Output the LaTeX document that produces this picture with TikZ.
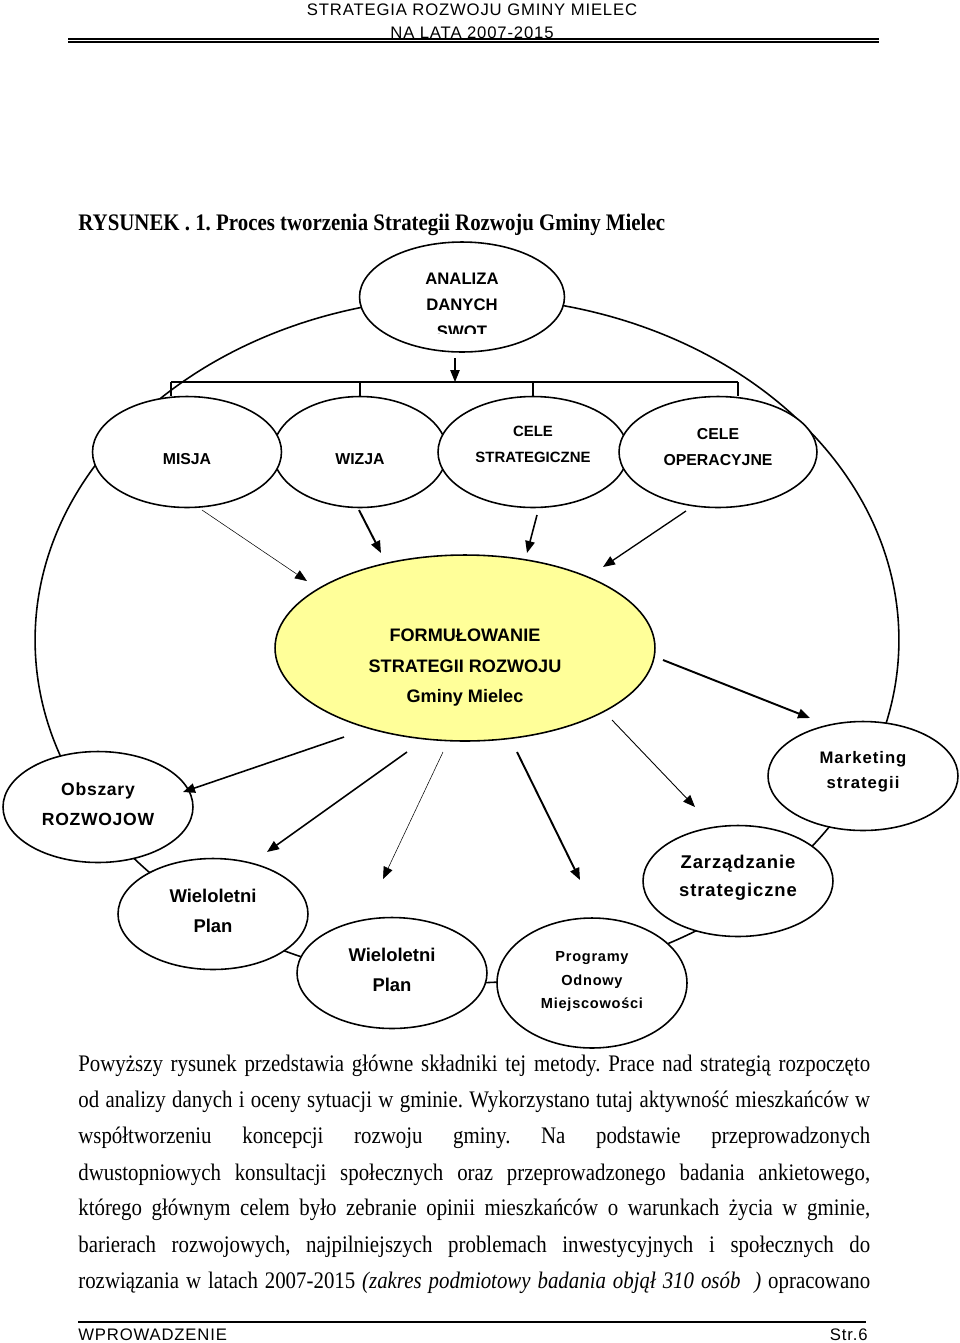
\documentclass[tikz,border=0pt]{standalone}
\usepackage{fontspec}
\setmainfont{Liberation Serif}
\newfontfamily\diagfont{Liberation Sans}
\newfontfamily\headfont[LetterSpace=5]{Liberation Sans}
\newfontfamily\bodyfont[FakeStretch=0.88]{Liberation Serif}
\usetikzlibrary{shapes.geometric,arrows.meta}

\definecolor{formyellow}{HTML}{FFFF99}
\newlength{\unitpx}
\setlength{\unitpx}{0.02cm}
\newcommand{\bfs}[2]{\diagfont\bfseries\fontsize{#1}{#2}\selectfont}
\newcommand{\bubbletext}[2]{\raisebox{\dimexpr-#1\unitpx-0.25em\relax}[0pt][0pt]{\begin{tabular}{@{}c@{}}#2\end{tabular}}}
\newcommand{\justline}[1]{\makebox[15.84cm][s]{#1}}
\frenchspacing

\tikzset{
  bubble/.style={draw, ellipse, fill=white, line width=0.9pt, inner sep=0pt,
    minimum width=3.8cm, minimum height=2.22cm},
  arr/.style={-{Triangle[length=2.4mm,width=1.9mm]}},
  bodyline/.style={anchor=base west, inner sep=0pt, font=\bodyfont\fontsize{13.5}{16}\selectfont},
  header/.style={anchor=base, inner sep=0pt, font=\headfont\fontsize{9.5}{12}\selectfont}
}

\begin{document}
\begin{tikzpicture}[x=0.02cm, y=-0.02cm]
\useasboundingbox (0,0) rectangle (960,1343);

\node[header] (head1) at (472,15) {STRATEGIA ROZWOJU GMINY MIELEC};
\node[header] (head2) at (472,38) {NA LATA 2007-2015};
\draw[line width=0.74pt] (68,39) -- (879,39);
\draw[line width=1.14pt] (68,41.8) -- (879,41.8);
\node[anchor=base west, inner sep=0pt, font=\bodyfont\bfseries\fontsize{13.5}{16}\selectfont] (title) at (78,230) {RYSUNEK . 1. Proces tworzenia Strategii Rozwoju Gminy Mielec};

\draw[line width=0.9pt] (467,640) ellipse [x radius=8.64cm, y radius=6.86cm];

\node[bubble, minimum width=4.1cm, minimum height=2.2cm, font=\bfs{9.5}{15}] (analiza) at (462,297) {\bubbletext{-5}{ANALIZA\\DANYCH}};
\begin{scope}
\clip (380,318) rectangle (545,333);
\node[inner sep=0pt, font=\bfs{9.5}{15}] (swot) at (462,332) {SWOT};
\end{scope}

\node[bubble, minimum width=3.48cm, font=\bfs{9}{15}] (wizja) at (360,452) {\bubbletext{7.5}{WIZJA}};
\node[bubble, minimum width=3.78cm, font=\bfs{9}{15}] (misja) at (187,452) {\bubbletext{7.5}{MISJA}};
\node[bubble, font=\bfs{8.5}{14.5}] (celestrat) at (533,452) {\bubbletext{-8}{CELE\\STRATEGICZNE}};
\node[bubble, minimum width=3.96cm, font=\bfs{9}{14.8}] (celeoper) at (718,452) {\bubbletext{-4.5}{CELE\\OPERACYJNE}};

\coordinate (analizaOut) at (455,358);
\coordinate (barM) at (455,382);
\coordinate (barL) at (171,382);
\coordinate (barR) at (738,382);
\draw[arr, line width=0.6pt] (analizaOut) -- (barM);
\draw[line width=0.9pt] (barL) -- (barR);
\draw[line width=0.9pt] (barL) -- (barL |- misja.north);
\draw[line width=0.9pt] (wizja.north |- barL) -- (wizja.north);
\draw[line width=0.9pt] (celestrat.north |- barL) -- (celestrat.north);
\draw[line width=0.9pt] (barR) -- (barR |- celeoper.north);

\node[bubble, fill=formyellow, minimum width=7.6cm, minimum height=3.72cm, font=\bfs{10.3}{17.2}] (form) at (465,648) {\bubbletext{18}{FORMUŁOWANIE\\STRATEGII ROZWOJU\\Gminy Mielec}};

\node[bubble, font=\bfs{10}{16.8}\addfontfeature{LetterSpace=4}] (obszary) at (98,807) {\bubbletext{-2.5}{Obszary\\ROZWOJOW}};
\node[bubble, font=\bfs{10.5}{17}] (plan1) at (213,914) {\bubbletext{-2.5}{Wieloletni\\Plan}};
\node[bubble, font=\bfs{10.5}{17}] (plan2) at (392,973) {\bubbletext{-2.5}{Wieloletni\\Plan}};
\node[bubble, minimum height=2.6cm, font=\bfs{8.3}{13.4}\addfontfeature{LetterSpace=5}] (programy) at (592,983) {\bubbletext{-2.5}{Programy\\Odnowy\\Miejscowości}};
\node[bubble, font=\bfs{10.5}{15.9}\addfontfeature{LetterSpace=5}] (zarzadzanie) at (738,881) {\bubbletext{-3.5}{Zarządzanie\\strategiczne}};
\node[bubble, minimum height=2.18cm, font=\bfs{9.5}{14.2}\addfontfeature{LetterSpace=6}] (marketing) at (863,776) {\bubbletext{-5.5}{Marketing\\strategii}};

\coordinate (misjaOut) at (202,510);
\coordinate (formInA) at (307,581);
\coordinate (wizjaOut) at (359,510);
\coordinate (formInB) at (381,553);
\coordinate (celestratOut) at (537,515);
\coordinate (formInC) at (527,553);
\coordinate (celeoperOut) at (686,511);
\coordinate (formInD) at (603,567);
\draw[arr, line width=0.3pt] (misjaOut) -- (formInA);
\draw[arr, line width=1.1pt] (wizjaOut) -- (formInB);
\draw[arr, line width=0.9pt] (celestratOut) -- (formInC);
\draw[arr, line width=0.75pt] (celeoperOut) -- (formInD);

\coordinate (formOutA) at (663,660);
\coordinate (marketingIn) at (810,718);
\coordinate (formOutB) at (612,720);
\coordinate (zarzadzanieIn) at (695,807);
\coordinate (formOutC) at (517,752);
\coordinate (programyIn) at (580,880);
\coordinate (formOutD) at (443,752);
\coordinate (plan2In) at (383,879);
\coordinate (formOutE) at (407,752);
\coordinate (plan1In) at (267,852);
\coordinate (formOutF) at (344,737);
\coordinate (obszaryIn) at (183,792);
\draw[arr, line width=1.1pt] (formOutA) -- (marketingIn);
\draw[arr, line width=0.5pt] (formOutB) -- (zarzadzanieIn);
\draw[arr, line width=1.1pt] (formOutC) -- (programyIn);
\draw[arr, line width=0.3pt] (formOutD) -- (plan2In);
\draw[arr, line width=0.9pt] (formOutE) -- (plan1In);
\draw[arr, line width=0.9pt] (formOutF) -- (obszaryIn);

\node[bodyline] (line1) at (78,1071) {\justline{Powyższy rysunek przedstawia główne składniki tej metody. Prace nad strategią rozpoczęto}};
\node[bodyline] (line2) at (78,1107) {\justline{od analizy danych i oceny sytuacji w gminie. Wykorzystano tutaj aktywność mieszkańców w}};
\node[bodyline] (line3) at (78,1143) {\justline{współtworzeniu koncepcji rozwoju gminy. Na podstawie przeprowadzonych}};
\node[bodyline] (line4) at (78,1180) {\justline{dwustopniowych konsultacji społecznych oraz przeprowadzonego badania ankietowego,}};
\node[bodyline] (line5) at (78,1215) {\justline{którego głównym celem było zebranie opinii mieszkańców o warunkach życia w gminie,}};
\node[bodyline] (line6) at (78,1252) {\justline{barierach rozwojowych, najpilniejszych problemach inwestycyjnych i społecznych do}};
\node[bodyline] (line7) at (78,1288) {\justline{rozwiązania w latach 2007-2015 \textit{(zakres podmiotowy badania objął 310 osób\ \ )} opracowano}};

\draw[line width=1.3pt] (78,1322) -- (866,1322);
\node[header, anchor=base west] (foot) at (78,1340) {WPROWADZENIE};
\node[header, anchor=base east] (page) at (868,1340) {Str.6};
\end{tikzpicture}
\end{document}
